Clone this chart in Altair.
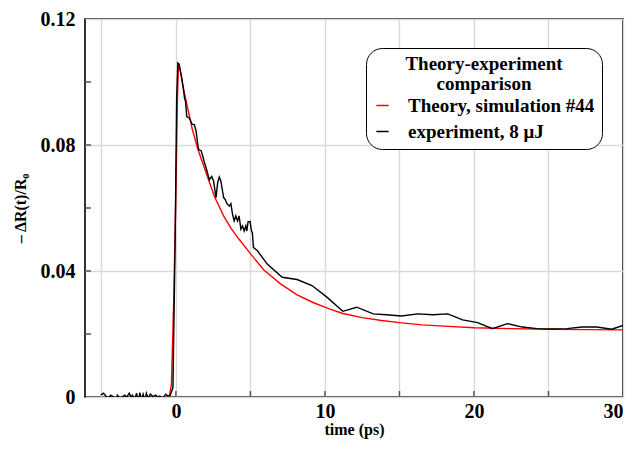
import altair as alt
import pandas as pd

# Theory curve (red)
theory_t = [-0.45, -0.3, -0.15, 0.0, 0.1, 0.18, 0.3, 0.5, 0.8, 1.1, 1.47, 2.0, 2.6, 3.2, 3.7,
            4.2, 5.0, 5.9, 7.0, 8.1, 9.2, 10.3, 11.2, 12.5, 13.8, 15.0, 16.5, 18.0, 20.0,
            22.5, 25.0, 27.5, 30.0]
theory_v = [0.0, 0.004, 0.03, 0.065, 0.095, 0.106, 0.1035, 0.098, 0.0915, 0.085, 0.0787,
            0.0715, 0.0635, 0.0575, 0.0535, 0.0503, 0.0455, 0.0403, 0.0360, 0.0325, 0.0300,
            0.0280, 0.0265, 0.0252, 0.0243, 0.0236, 0.0229, 0.0225, 0.0220, 0.0217, 0.0215,
            0.0214, 0.0213]

# Experiment (black)
exp_t = [-5.04, -4.87, -4.69, -4.53, -4.38, -4.2, -4.02, -3.93, -3.76, -3.58, -3.42, -3.31,
         -3.13, -3.02, -2.91, -2.76, -2.64, -2.53, -2.42, -2.31, -2.2, -2.09, -1.98, -1.87,
         -1.71, -1.53, -1.36, -1.2, -1.09, -0.87, -0.69, -0.53, -0.38, -0.2, -0.05, 0.05,
         0.13, 0.22, 0.36, 0.5, 0.58, 0.64, 0.73, 0.91, 1.09, 1.24, 1.36, 1.47, 1.53, 1.69,
         1.8, 1.91, 2.09, 2.24, 2.4, 2.53, 2.69, 2.8, 2.91, 3.02, 3.2, 3.3, 3.42, 3.58, 3.69,
         3.8, 3.91, 4.02, 4.13, 4.24, 4.36, 4.47, 4.58, 4.69, 4.76, 4.84, 4.98, 5.07, 5.13,
         5.2, 5.47, 6.13, 7.13, 8.13, 9.13, 10.13, 11.2, 12.13, 13.24, 14.13, 15.13, 16.24,
         17.24, 18.24, 19.24, 20.24, 21.24, 22.24, 23.24, 24.24, 25.24, 26.24, 27.24, 28.24,
         29.24, 30.0]
exp_v = [0.0006, 0.0012, 0.0003, -0.0004, 0.0006, 0.0001, -0.0022, 0.0006, -0.0004, 0.0001,
         0.0006, -0.0001, 0.0012, 0.0001, 0.0006, -0.0007, 0.0012, -0.0015, 0.0014, -0.0009,
         0.0009, -0.0012, 0.0012, -0.0004, 0.0009, 0.0001, 0.0006, -0.0001, 0.0003, -0.0004,
         0.0009, 0.0003, 0.0006, 0.003, 0.05, 0.095, 0.106, 0.1055, 0.102, 0.098, 0.0948,
         0.094, 0.089, 0.0885, 0.0866, 0.0864, 0.0843, 0.080, 0.0785, 0.0782, 0.0765, 0.0745,
         0.0717, 0.069, 0.070, 0.0685, 0.0633, 0.068, 0.0698, 0.0685, 0.0633, 0.0628, 0.0614,
         0.0606, 0.0614, 0.058, 0.0559, 0.0575, 0.0559, 0.0575, 0.0533, 0.0543, 0.0527,
         0.0543, 0.0527, 0.0556, 0.0557, 0.0527, 0.0522, 0.0475, 0.0464, 0.0422, 0.038,
         0.0373, 0.0354, 0.0317, 0.0272, 0.0285, 0.0264, 0.0261, 0.0257, 0.0264, 0.0261,
         0.0264, 0.0245, 0.0236, 0.0217, 0.0233, 0.0222, 0.0217, 0.0216, 0.0217, 0.0222,
         0.0222, 0.0215, 0.0227]

series_names = ["Theory, simulation #44", "experiment, 8 \u03bcJ"]
series_colors = ["#ff0000", "#000000"]

x_grid = [-5, 0, 5, 10, 15, 20, 25, 30]
y_grid = [0, 0.04, 0.08, 0.12]
x_minor = [0, 5, 10, 15, 20, 25]
y_minor = [0.02, 0.04, 0.06, 0.08, 0.10]

X_DOMAIN = [-6.1, 30]
Y_DOMAIN = [0, 0.12]
W, H = 538, 378
FONT = "Liberation Serif"

df = pd.concat([
    pd.DataFrame({"t": theory_t, "v": theory_v, "series": series_names[0], "o": range(len(theory_t))}),
    pd.DataFrame({"t": exp_t, "v": exp_v, "series": series_names[1], "o": range(len(exp_t))}),
])

xscale = alt.Scale(domain=X_DOMAIN, nice=False, zero=False)
yscale = alt.Scale(domain=Y_DOMAIN, nice=False, zero=False)

X_AXIS = alt.Axis(values=x_grid, grid=True, ticks=False, domain=False,
                  labelExpr="datum.value >= 0 && datum.value % 10 == 0 ? datum.label : ''",
                  labelPadding=4, titlePadding=0)
Y_AXIS = alt.Axis(values=y_grid, grid=True, ticks=False, domain=False,
                  labelExpr="datum.value == 0 ? '0' : format(datum.value, '.2f')",
                  labelPadding=10, titlePadding=12)
X_TITLE = "time (ps)"
Y_TITLE = "\u2013 \u0394R(t)/R\u2080"

lines = alt.Chart(df).mark_line(strokeWidth=1.4, clip=True).encode(
    x=alt.X("t:Q", scale=xscale, title=X_TITLE, axis=X_AXIS),
    y=alt.Y("v:Q", scale=yscale, title=Y_TITLE, axis=Y_AXIS),
    color=alt.Color("series:N",
                    scale=alt.Scale(domain=series_names, range=series_colors),
                    legend=alt.Legend(
                        title=["Theory-experiment", "comparison"],
                        orient="none", legendX=281, legendY=29,
                        titleAnchor="middle", titleAlign="center",
                        titleFont=FONT, titleFontSize=19, titleFontWeight="bold",
                        titleColor="black", titleLineHeight=20, titlePadding=2,
                        labelFont=FONT, labelFontSize=19, labelFontWeight="bold",
                        labelColor="black", labelOffset=16, labelLimit=400,
                        symbolType="stroke", symbolSize=150, symbolStrokeWidth=1.5,
                        rowPadding=6, padding=7, cornerRadius=16,
                        strokeColor="black", fillColor="white",
                    )),
    order="o:Q",
)

xt = alt.Chart(pd.DataFrame({"t": x_minor})).mark_rule(color="#555555", strokeWidth=1.5).encode(
    x=alt.X("t:Q", scale=xscale, title=X_TITLE, axis=X_AXIS), y=alt.value(H), y2=alt.value(H - 6))
yt = alt.Chart(pd.DataFrame({"v": y_minor})).mark_rule(color="#555555", strokeWidth=1.5).encode(
    y=alt.Y("v:Q", scale=yscale, title=Y_TITLE, axis=Y_AXIS), x=alt.value(0), x2=alt.value(6))

chart = alt.layer(lines, xt, yt).properties(
    width=W, height=H, autosize="none", background="white",
    padding={"left": 77, "top": 11, "right": 10, "bottom": 43},
).configure_view(stroke="black", strokeWidth=1.6).configure_axis(
    gridColor="#d9d9d9", gridWidth=1.4,
    labelFont=FONT, labelFontSize=20, labelFontWeight="bold", labelColor="black",
    titleFont=FONT, titleFontSize=16, titleFontWeight="bold", titleColor="black",
)

chart.save("out.html", embed_options={"renderer": "svg", "actions": False})
